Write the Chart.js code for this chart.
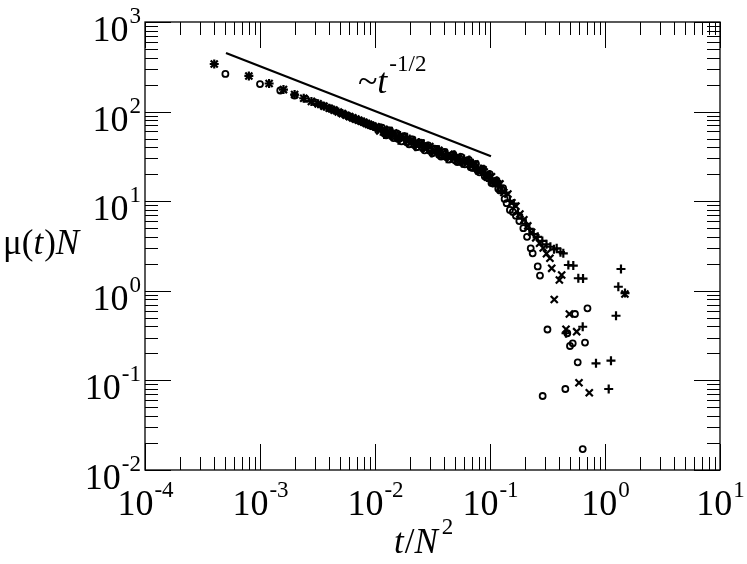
<!DOCTYPE html>
<html>
<head>
<meta charset="utf-8">
<script src="https://cdn.jsdelivr.net/npm/chart.js@4.4.1/dist/chart.umd.min.js"></script>
<style>
  body { margin: 0; background: #fff; }
  #myChart { display: block; }
</style>
</head>
<body>
<canvas id="myChart" width="747" height="564"></canvas>
<script>
// open circles
var circleT = [5e-4, 1e-3, 1.5e-3, 2e-3, 2.5e-3, 3e-3, 3.5e-3, 4e-3, 4.5e-3, 5e-3,
  5.5e-3, 6e-3, 6.5e-3, 7e-3, 7.5e-3, 8e-3, 8.5e-3, 9e-3, 9.5e-3, 0.010,
  0.011, 0.012, 0.013, 0.014, 0.015, 0.016, 0.0175, 0.019, 0.0205, 0.022,
  0.024, 0.026, 0.028, 0.030, 0.033, 0.036, 0.039, 0.042, 0.046, 0.050,
  0.054, 0.058, 0.063, 0.068, 0.073, 0.078, 0.084, 0.090, 0.096, 0.103,
  0.110, 0.118, 0.126, 0.134, 0.1396, 0.149, 0.158, 0.168, 0.180, 0.195,
  0.210, 0.226, 0.235, 0.260, 0.272, 0.287, 0.316, 0.452, 0.470, 0.496,
  0.524, 0.548, 0.579, 0.640, 0.670, 0.704,
  0.0115, 0.0125, 0.0135, 0.0145, 0.0155, 0.017, 0.018, 0.0198, 0.0212, 0.023,
  0.025, 0.027, 0.029, 0.0315, 0.0345, 0.0375, 0.0405, 0.044, 0.048, 0.052,
  0.056, 0.0605, 0.0655, 0.0705, 0.0755, 0.081, 0.087, 0.093, 0.0995, 0.1065,
  0.114, 0.122, 0.130];
var circleMu = [263, 203, 172, 151, 139, 127, 117, 109, 103, 97,
  92, 88, 84, 81, 78, 75.5, 73, 71, 69, 67,
  67, 57.5, 61.5, 53, 57, 49.5, 53, 45.5, 49, 42.5,
  45, 39, 41.5, 36.5, 38.5, 33, 35, 31, 32.5, 28.5,
  30.5, 26.5, 28.5, 24, 25, 22, 22, 19, 19.5, 16,
  16.5, 13.8, 13.6, 10.6, 9.5, 8.0, 7.6, 6.9, 6.0, 5.0,
  4.0, 2.98, 2.62, 1.87, 1.48, 0.067, 0.37, 0.0802, 0.336, 0.242,
  0.259, 0.551, 0.159, 0.0171, 0.264, 0.638,
  66.4, 54.3, 61.6, 50.6, 57.2, 46.6, 53.1, 43.2, 49, 40.1,
  45.1, 37, 41.9, 34.2, 38.4, 31.5, 35.6, 29.2, 33.2, 27.4,
  31.3, 25.8, 28.9, 23.5, 26.1, 21, 23, 18.4, 20.1, 15.8,
  17.1, 13.2, 14];

// plus signs
var plusT = [4e-4, 8e-4, 1.2e-3, 1.6e-3, 2.0e-3, 2.4e-3, 2.8e-3, 3.2e-3, 3.6e-3, 4.0e-3,
  4.4e-3, 4.8e-3, 5.2e-3, 5.6e-3, 6.0e-3, 6.4e-3, 6.8e-3, 7.2e-3, 7.6e-3, 8.0e-3,
  8.4e-3, 8.8e-3, 9.2e-3, 9.6e-3, 0.0105, 0.0115, 0.0125, 0.0137, 0.015, 0.0165,
  0.018, 0.020, 0.022, 0.024, 0.026, 0.0288, 0.0315, 0.0345, 0.038, 0.042,
  0.046, 0.050, 0.0545, 0.0595, 0.065, 0.071, 0.077, 0.0835, 0.091, 0.099,
  0.1075, 0.117, 0.127, 0.1375, 0.149, 0.161, 0.175, 0.190, 0.205, 0.220,
  0.240, 0.260, 0.285, 0.310, 0.335, 0.360, 0.380, 0.410, 0.434, 0.480,
  0.530, 0.586, 0.644, 0.458, 0.640, 0.835, 1.077, 1.127, 1.247, 1.306,
  1.377, 1.493,
  0.012, 0.014, 0.016, 0.019, 0.0225, 0.0265, 0.031, 0.036, 0.042, 0.049,
  0.057, 0.066, 0.076, 0.088, 0.101, 0.115];
var plusMu = [340, 250, 206, 176, 155, 141, 130, 122, 115, 109,
  104, 99, 95, 91, 88, 85, 82.5, 80, 78, 76,
  74, 72, 70.5, 69, 63.4, 64.5, 57.6, 59.3, 52.8, 54,
  48, 49.4, 43.2, 45.2, 39.8, 41.1, 36.5, 37.4, 33.1, 34.3,
  30.2, 31.7, 28.3, 29.6, 25.9, 26.5, 23, 22.9, 19.7, 19.8,
  16.3, 16.1, 13, 12.5, 10.1, 9.4, 7.3, 6.4, 5.6, 4.9,
  4.3, 4.0, 3.6, 3.3, 3.1, 2.9, 2.98, 2.7, 2.62, 1.94,
  1.91, 1.38, 1.37, 0.336, 0.397, 0.155, 0.0802, 0.166, 0.527, 1.11,
  1.75, 0.944,
  55.4, 60.3, 48, 51.7, 40.5, 43.7, 34.5, 37.6, 29.7, 32.9,
  26.5, 28.8, 22.1, 22.7, 16.8, 16.8];

// diagonal crosses
var crossT = [4e-4, 8e-4, 1.2e-3, 1.6e-3, 2.0e-3, 2.4e-3, 2.8e-3, 3.2e-3, 3.6e-3, 4.0e-3,
  4.4e-3, 4.8e-3, 5.2e-3, 5.6e-3, 6.0e-3, 6.4e-3, 6.8e-3, 7.2e-3, 7.6e-3, 8.0e-3,
  8.4e-3, 8.8e-3, 9.2e-3, 9.6e-3, 0.0102, 0.011, 0.012, 0.0132, 0.0145, 0.016,
  0.0172, 0.019, 0.021, 0.023, 0.025, 0.0275, 0.030, 0.033, 0.036, 0.040,
  0.044, 0.048, 0.052, 0.057, 0.062, 0.068, 0.074, 0.080, 0.087, 0.095,
  0.103, 0.112, 0.122, 0.132, 0.143, 0.155, 0.168, 0.182, 0.197, 0.213,
  0.230, 0.250, 0.270, 0.290, 0.310, 0.332, 0.344, 0.362, 0.401, 0.420,
  0.458, 0.490, 0.567, 0.594, 0.730, 1.49,
  0.0107, 0.0126, 0.0148, 0.0175, 0.0205, 0.024, 0.028, 0.0325, 0.038, 0.045,
  0.053, 0.061, 0.071, 0.082, 0.094, 0.108];
var crossMu = [340, 250, 206, 176, 155, 141, 130, 122, 115, 109,
  104, 99, 95, 91, 88, 85, 82.5, 80, 78, 76,
  74, 72, 70.5, 69, 67.6, 61, 63.4, 55.7, 57.7, 50.9,
  53, 46.6, 47.8, 42.2, 44.2, 38.9, 40.6, 35.5, 36.9, 32.2,
  33.3, 29.8, 31.2, 27.8, 28.6, 25.4, 26, 22.1, 22.4, 19.2,
  18.7, 15.8, 15.6, 12.5, 12, 9.6, 8.8, 7.2, 6.2, 5.3,
  4.5, 3.9, 3.4, 3.0, 2.6, 2.31, 1.78, 0.80, 1.32, 1.5,
  0.372, 0.551, 0.35, 0.0942, 0.0729, 0.92,
  63.8, 58.8, 54.3, 49.9, 46.1, 42.6, 39.4, 36.6, 33.9, 31.3,
  29.6, 27.9, 25.4, 22.5, 19.8, 16.9];

// ~t^-1/2 guide line
var guideT = [5.06e-4, 0.102];
var guideMu = [450, 31.8];

var xTickValues = [1e-4, 1e-3, 1e-2, 1e-1, 1, 10];
var xTickExps = ['-4', '-3', '-2', '-1', '0', '1'];
var yTickValues = [1e-2, 1e-1, 1, 10, 100, 1000];
var yTickExps = ['-2', '-1', '0', '1', '2', '3'];

function pts(ts, ms) {
  return ts.map(function (t, i) { return { x: t, y: ms[i] }; });
}

var SERIF = '"Liberation Serif", "Times New Roman", serif';

// "10" with a raised exponent
function drawPow(ctx, exp, x, baseY, align) {
  ctx.font = '36px ' + SERIF;
  var w1 = ctx.measureText('10').width;
  ctx.font = '23px ' + SERIF;
  var w2 = ctx.measureText(exp).width;
  var x0 = align === 'center' ? x - (w1 + w2) / 2 : x - (w1 + w2);
  ctx.font = '36px ' + SERIF;
  ctx.fillText('10', x0, baseY);
  ctx.font = '23px ' + SERIF;
  ctx.fillText(exp, x0 + w1 + 1, baseY - 18);
}

function drawParts(ctx, parts, x, y) {
  parts.forEach(function (p) {
    ctx.font = p[1];
    ctx.fillText(p[0], x, y + (p[2] || 0));
    x += ctx.measureText(p[0]).width + (p[3] || 0);
  });
}

var framePlugin = {
  id: 'frame',
  afterDraw: function (chart) {
    var ctx = chart.ctx, a = chart.chartArea;
    var xs = chart.scales.x, ys = chart.scales.y;
    ctx.save();
    ctx.strokeStyle = '#000';
    ctx.fillStyle = '#000';
    ctx.lineWidth = 1.3;
    ctx.strokeRect(a.left, a.top, a.right - a.left, a.bottom - a.top);

    // ticks on all four sides, pointing inward
    ctx.lineWidth = 1;
    ctx.beginPath();
    xTickValues.forEach(function (v, i) {
      for (var m = 1; m <= 9; m++) {
        if (i === xTickValues.length - 1 && m > 1) break;
        var px = Math.round(xs.getPixelForValue(v * m)) + 0.5;
        var len = m === 1 ? 26 : 13;
        ctx.moveTo(px, a.bottom); ctx.lineTo(px, a.bottom - len);
        ctx.moveTo(px, a.top); ctx.lineTo(px, a.top + len);
      }
    });
    yTickValues.forEach(function (v, i) {
      for (var m = 1; m <= 9; m++) {
        if (i === yTickValues.length - 1 && m > 1) break;
        var py = Math.round(ys.getPixelForValue(v * m)) + 0.5;
        var len = m === 1 ? 26 : 13;
        ctx.moveTo(a.left, py); ctx.lineTo(a.left + len, py);
        ctx.moveTo(a.right, py); ctx.lineTo(a.right - len, py);
      }
    });
    ctx.stroke();

    // tick labels
    ctx.textBaseline = 'alphabetic';
    xTickValues.forEach(function (v, i) {
      drawPow(ctx, xTickExps[i], xs.getPixelForValue(v), a.bottom + 45, 'center');
    });
    yTickValues.forEach(function (v, i) {
      drawPow(ctx, yTickExps[i], a.left - 5, ys.getPixelForValue(v) + 19, 'right');
    });

    // axis titles
    var up = '35px ' + SERIF, it = 'italic 35px ' + SERIF;
    drawParts(ctx, [['\u03bc', up], ['(', up], ['t', it, 0, 1], [')', up], ['N', it]], 3, 254);
    drawParts(ctx, [['t', it, 0, 1], ['/', up], ['N', it, 0, 4], ['2', '23px ' + SERIF, -19]], 394, 553);

    // power-law annotation
    var ax = xs.getPixelForValue(7.1e-3), ay = ys.getPixelForValue(161);
    drawParts(ctx, [['~', '36px ' + SERIF], ['t', 'italic 36px ' + SERIF, 0, 2], ['-1/2', '23px ' + SERIF, -22]], ax, ay);
    ctx.restore();
  }
};

var ctx = document.getElementById('myChart').getContext('2d');
var myChart = new Chart(ctx, {
  type: 'scatter',
  data: {
    datasets: [{
      label: 'circles',
      data: pts(circleT, circleMu),
      pointStyle: 'circle',
      pointRadius: 3,
      borderWidth: 1.8,
      borderColor: '#000',
      backgroundColor: 'rgba(0,0,0,0)'
    }, {
      label: 'plus',
      data: pts(plusT, plusMu),
      pointStyle: 'cross',
      pointRadius: 4.5,
      borderWidth: 2.2,
      borderColor: '#000',
      backgroundColor: '#000'
    }, {
      label: 'cross',
      data: pts(crossT, crossMu),
      pointStyle: 'crossRot',
      pointRadius: 5,
      borderWidth: 2.2,
      borderColor: '#000',
      backgroundColor: '#000'
    }, {
      type: 'line',
      label: 'guide',
      data: pts(guideT, guideMu),
      showLine: true,
      pointRadius: 0,
      borderWidth: 2.2,
      borderColor: '#000',
      fill: false
    }]
  },
  options: {
    responsive: false,
    devicePixelRatio: 1,
    animation: false,
    layout: { padding: { left: 145, right: 27, top: 22, bottom: 94 } },
    scales: {
      x: { type: 'logarithmic', min: 1e-4, max: 10, display: false },
      y: { type: 'logarithmic', min: 1e-2, max: 1000, display: false }
    },
    plugins: {
      legend: { display: false },
      tooltip: { enabled: false }
    }
  },
  plugins: [framePlugin]
});
</script>
</body>
</html>
